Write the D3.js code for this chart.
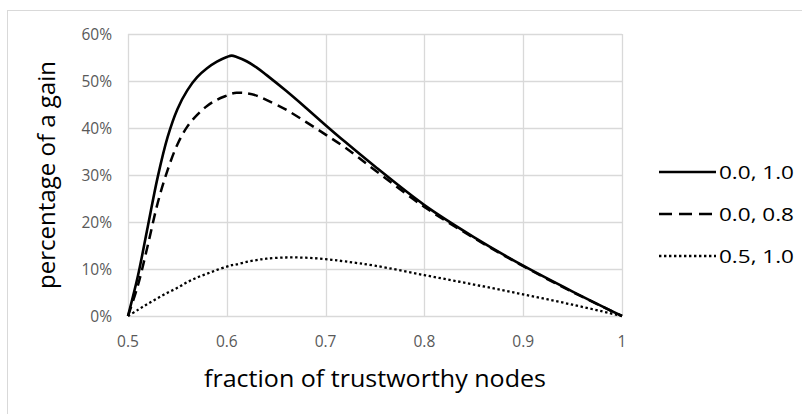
<!DOCTYPE html>
<html>
<head>
<meta charset="utf-8">
<script src="https://cdn.jsdelivr.net/npm/d3@7"></script>
<style>
  html, body { margin: 0; padding: 0; background: #fff; }
  svg { display: block; }
  text { font-family: "Open Sans", "Liberation Sans", sans-serif; }
</style>
</head>
<body>
<svg id="chart" width="802" height="414"></svg>
<script>
// ---- data ----
const xValues = [0.50, 0.51, 0.52, 0.53, 0.54, 0.55, 0.56, 0.57, 0.58, 0.59, 0.60, 0.605, 0.61, 0.62, 0.63, 0.64, 0.66, 0.68, 0.70, 0.72, 0.75, 0.80, 0.85, 0.90, 0.95, 1.00];
const series00_10 = [0, 8.5, 19.0, 29.5, 38.0, 44.0, 48.0, 50.8, 52.7, 54.1, 55.1, 55.4, 55.1, 54.2, 52.9, 51.3, 47.9, 44.3, 40.6, 37.0, 31.8, 23.6, 16.8, 10.7, 5.2, 0];
const series00_08 = [0, 6.5, 15.0, 24.0, 31.0, 36.5, 40.3, 42.8, 44.7, 46.0, 46.9, 47.3, 47.5, 47.4, 46.9, 46.0, 43.9, 41.3, 38.6, 35.8, 31.0, 23.2, 16.6, 10.6, 5.1, 0];
const series05_10 = [0, 1.3, 2.6, 3.8, 4.95, 6.0, 7.2, 8.2, 9.0, 9.8, 10.5, 10.8, 11.0, 11.5, 11.9, 12.2, 12.45, 12.4, 12.1, 11.6, 10.7, 8.7, 6.7, 4.6, 2.4, 0];
const seriesNames = ["0.0, 1.0", "0.0, 0.8", "0.5, 1.0"];
const xTicks = [0.5, 0.6, 0.7, 0.8, 0.9, 1];
const xTickLabels = ["0.5", "0.6", "0.7", "0.8", "0.9", "1"];
const yTicks = [0, 10, 20, 30, 40, 50, 60];
const yTickLabels = ["0%", "10%", "20%", "30%", "40%", "50%", "60%"];
const xTitle = "fraction of trustworthy nodes";
const yTitle = "percentage of a gain";

// ---- layout ----
const svg = d3.select("#chart");
const plot = { left: 128, right: 622, top: 34, bottom: 316 };
const grid = "#d9d9d9";

svg.append("rect")
  .attr("x", 7.5).attr("y", 10.5).attr("width", 820).attr("height", 420)
  .attr("fill", "#fff").attr("stroke", grid).attr("stroke-width", 1);

const x = d3.scaleLinear().domain([0.5, 1]).range([plot.left, plot.right]);
const y = d3.scaleLinear().domain([0, 60]).range([plot.bottom, plot.top]);

// horizontal gridlines
svg.append("g").selectAll("line").data(yTicks).join("line")
  .attr("x1", plot.left).attr("x2", plot.right)
  .attr("y1", d => Math.round(y(d)) + 0.5).attr("y2", d => Math.round(y(d)) + 0.5)
  .attr("stroke", grid).attr("stroke-width", 1.3);

// vertical gridlines
svg.append("g").selectAll("line").data(xTicks).join("line")
  .attr("x1", d => Math.round(x(d)) + 0.5).attr("x2", d => Math.round(x(d)) + 0.5)
  .attr("y1", plot.top).attr("y2", plot.bottom)
  .attr("stroke", grid).attr("stroke-width", 1.3);

// tick labels
svg.append("g").selectAll("text").data(yTicks).join("text")
  .attr("x", plot.left - 16).attr("y", d => y(d))
  .attr("dy", "0.36em")
  .attr("text-anchor", "end")
  .attr("font-size", 15.5).attr("fill", "#595959")
  .text((d, i) => yTickLabels[i]);

svg.append("g").selectAll("text").data(xTicks).join("text")
  .attr("x", d => x(d)).attr("y", 347)
  .attr("text-anchor", "middle")
  .attr("font-size", 15.5).attr("fill", "#595959")
  .text((d, i) => xTickLabels[i]);

// axis titles
svg.append("text")
  .attr("x", (plot.left + plot.right) / 2).attr("y", 387)
  .attr("text-anchor", "middle")
  .attr("font-size", 23).attr("fill", "#000")
  .attr("textLength", 342).attr("lengthAdjust", "spacingAndGlyphs")
  .text(xTitle);

svg.append("text")
  .attr("transform", `translate(55, ${(plot.top + plot.bottom) / 2}) rotate(-90)`)
  .attr("text-anchor", "middle")
  .attr("font-size", 23).attr("fill", "#000")
  .attr("textLength", 228).attr("lengthAdjust", "spacingAndGlyphs")
  .text(yTitle);

// series lines
const styles = [
  { dash: null, width: 2.6, legendDash: null },
  { dash: "10,6", width: 2.5, legendDash: "13,7" },
  { dash: "2.4,2.6", width: 2.3, legendDash: "2.4,2.6" }
];
const allSeries = [series00_10, series00_08, series05_10];

const line = d3.line()
  .x((d, i) => x(xValues[i]))
  .y(d => y(d))
  .curve(d3.curveCatmullRom.alpha(0.5));

svg.append("g").selectAll("path").data(allSeries).join("path")
  .attr("d", d => line(d))
  .attr("fill", "none")
  .attr("stroke", "#000")
  .attr("stroke-width", (d, i) => styles[i].width)
  .attr("stroke-dasharray", (d, i) => styles[i].dash)
  .attr("stroke-linejoin", "round");

// legend
const legendY = [172, 214, 256];
const lg = svg.append("g");
seriesNames.forEach((name, i) => {
  lg.append("line")
    .attr("x1", 659).attr("x2", 716)
    .attr("y1", legendY[i]).attr("y2", legendY[i])
    .attr("stroke", "#000")
    .attr("stroke-width", i === 2 ? 2.3 : 2.6)
    .attr("stroke-dasharray", styles[i].legendDash);
  lg.append("text")
    .attr("x", 719).attr("y", legendY[i])
    .attr("dy", "0.36em")
    .attr("font-size", 19).attr("fill", "#000")
    .attr("textLength", 75).attr("lengthAdjust", "spacingAndGlyphs")
    .text(name);
});
</script>
</body>
</html>
